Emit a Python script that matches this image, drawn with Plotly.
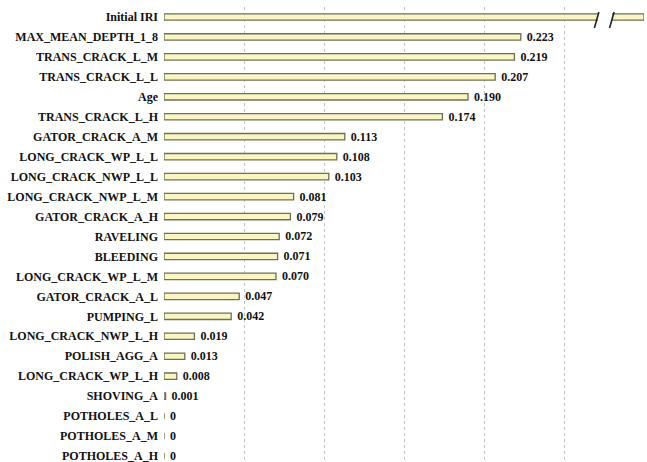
import plotly.graph_objects as go

# Relative importance of each predictor (Initial IRI is off the scale; axis is broken)
features = [
    "Initial IRI", "MAX_MEAN_DEPTH_1_8", "TRANS_CRACK_L_M", "TRANS_CRACK_L_L", "Age",
    "TRANS_CRACK_L_H", "GATOR_CRACK_A_M", "LONG_CRACK_WP_L_L", "LONG_CRACK_NWP_L_L",
    "LONG_CRACK_NWP_L_M", "GATOR_CRACK_A_H", "RAVELING", "BLEEDING", "LONG_CRACK_WP_L_M",
    "GATOR_CRACK_A_L", "PUMPING_L", "LONG_CRACK_NWP_L_H", "POLISH_AGG_A",
    "LONG_CRACK_WP_L_H", "SHOVING_A", "POTHOLES_A_L", "POTHOLES_A_M", "POTHOLES_A_H",
]
importance = [
    0.30, 0.223, 0.219, 0.207, 0.190,
    0.174, 0.113, 0.108, 0.103,
    0.081, 0.079, 0.072, 0.071, 0.070,
    0.047, 0.042, 0.019, 0.013,
    0.008, 0.001, 0, 0, 0,
]
labelled = [False] + [True] * (len(features) - 1)

grid_vals = [0, 0.05, 0.10, 0.15, 0.20, 0.25, 0.30]
x_max = 0.30

texts = []
for v, show in zip(importance, labelled):
    if not show:
        texts.append("")
    elif v == 0:
        texts.append(" 0")
    else:
        texts.append(f" {v:.3f}")

serif_bold = dict(family="Liberation Serif, Times New Roman, serif", size=12,
                  color="#111111", weight="bold")

fig = go.Figure()
fig.add_trace(go.Bar(
    x=importance,
    y=features,
    orientation="h",
    width=0.32,
    marker=dict(color="#faf6c4", line=dict(color="#6f6f55", width=1.3)),
    text=texts,
    textposition="outside",
    constraintext="none",
    textfont=serif_bold,
    cliponaxis=False,
    hoverinfo="skip",
))

# Axis break on the first bar
brk_lo, brk_hi = 0.2712, 0.2800
fig.add_shape(type="rect", xref="x", yref="y",
              x0=brk_lo, x1=brk_hi, y0=-0.3, y1=0.3,
              fillcolor="white", line=dict(width=0), layer="above")
for xb, xt in [(0.2690, 0.2718), (0.2785, 0.2813)]:
    fig.add_shape(type="line", xref="x", yref="y",
                  x0=xb, y0=0.55, x1=xt, y1=-0.25,
                  line=dict(color="#222222", width=1.6), layer="above")

fig.update_layout(
    width=647, height=462,
    margin=dict(l=164, r=3, t=7, b=0),
    plot_bgcolor="white", paper_bgcolor="white",
    showlegend=False,
)
fig.update_xaxes(
    range=[0, x_max],
    tickvals=grid_vals,
    showticklabels=False,
    showgrid=True, gridcolor="#c4c4c4", griddash="dot", gridwidth=1,
    zeroline=False, showline=False,
)
fig.update_yaxes(
    type="category",
    categoryorder="array", categoryarray=features,
    range=[22.3, -0.5],
    showgrid=False, zeroline=False, showline=False,
    ticks="", ticklabelstandoff=5,
    tickfont=serif_bold,
)

fig.write_html("out.html")
